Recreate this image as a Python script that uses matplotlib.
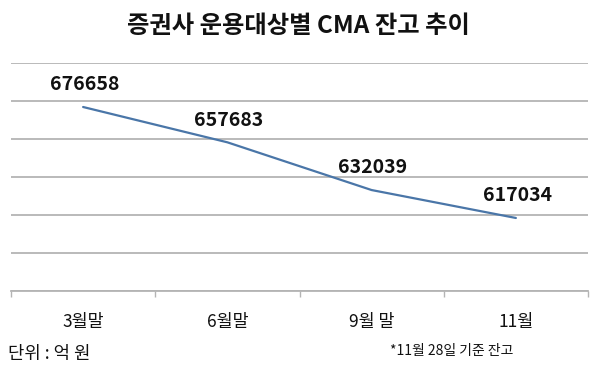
import matplotlib
matplotlib.use("Agg")
import matplotlib.pyplot as plt
import numpy as np

plt.rcParams['font.family'] = ['Noto Sans CJK KR', 'DejaVu Sans']

categories = ["3월말", "6월말", "9월 말", "11월"]
values = [676658, 657683, 632039, 617034]
title = "증권사 운용대상별 CMA 잔고 추이"
unit_note = "단위 : 억 원"
date_note = "*11월 28일 기준 잔고"

fig = plt.figure(figsize=(6.0, 3.85), dpi=100)
ax = fig.add_axes([11/600, 94/385, 577/600, 228/385])

x = np.arange(len(categories))
ax.plot(x, values, color="#4a76a8", lw=1.6, solid_capstyle="round", zorder=3)
for xi, v in zip(x, values):
    ax.annotate(f"{v}", (xi, v), xytext=(1, 16), textcoords="offset points",
                ha="center", va="center", fontsize=14, fontweight="bold", color="#111111")

ymin, ymax = 577800, 700300
ax.set_ylim(ymin, ymax)
ax.set_xlim(-0.5, len(categories) - 0.5)
ax.set_yticks(np.linspace(ymin, ymax, 7))
ax.yaxis.grid(True, color="#b4b4b4", lw=1.3)
ax.set_axisbelow(True)
ax.tick_params(axis="y", left=False, labelleft=False)
for s in ["top", "right", "left"]:
    ax.spines[s].set_visible(False)
ax.spines["bottom"].set_color("#b4b4b4")
ax.spines["bottom"].set_linewidth(1.3)

ax.set_xticks(x)
ax.set_xticklabels(categories, fontsize=12.5, color="#111111")
ax.tick_params(axis="x", which="major", length=0, pad=16)
ax.set_xticks(np.arange(-0.5, len(categories)), minor=True)
ax.tick_params(axis="x", which="minor", length=4, color="#b4b4b4", width=1)

fig.text(298/600, 1 - 26/385, title, ha="center", va="center",
         fontsize=17.5, fontweight="bold", color="#111111")
fig.text(8/600, 1 - 354/385, unit_note, ha="left", va="center", fontsize=12.8, color="#111111")
fig.text(513/600, 1 - 351/385, date_note, ha="right", va="center", fontsize=10, color="#111111")

fig.savefig("out.png", dpi=100, facecolor="white")
